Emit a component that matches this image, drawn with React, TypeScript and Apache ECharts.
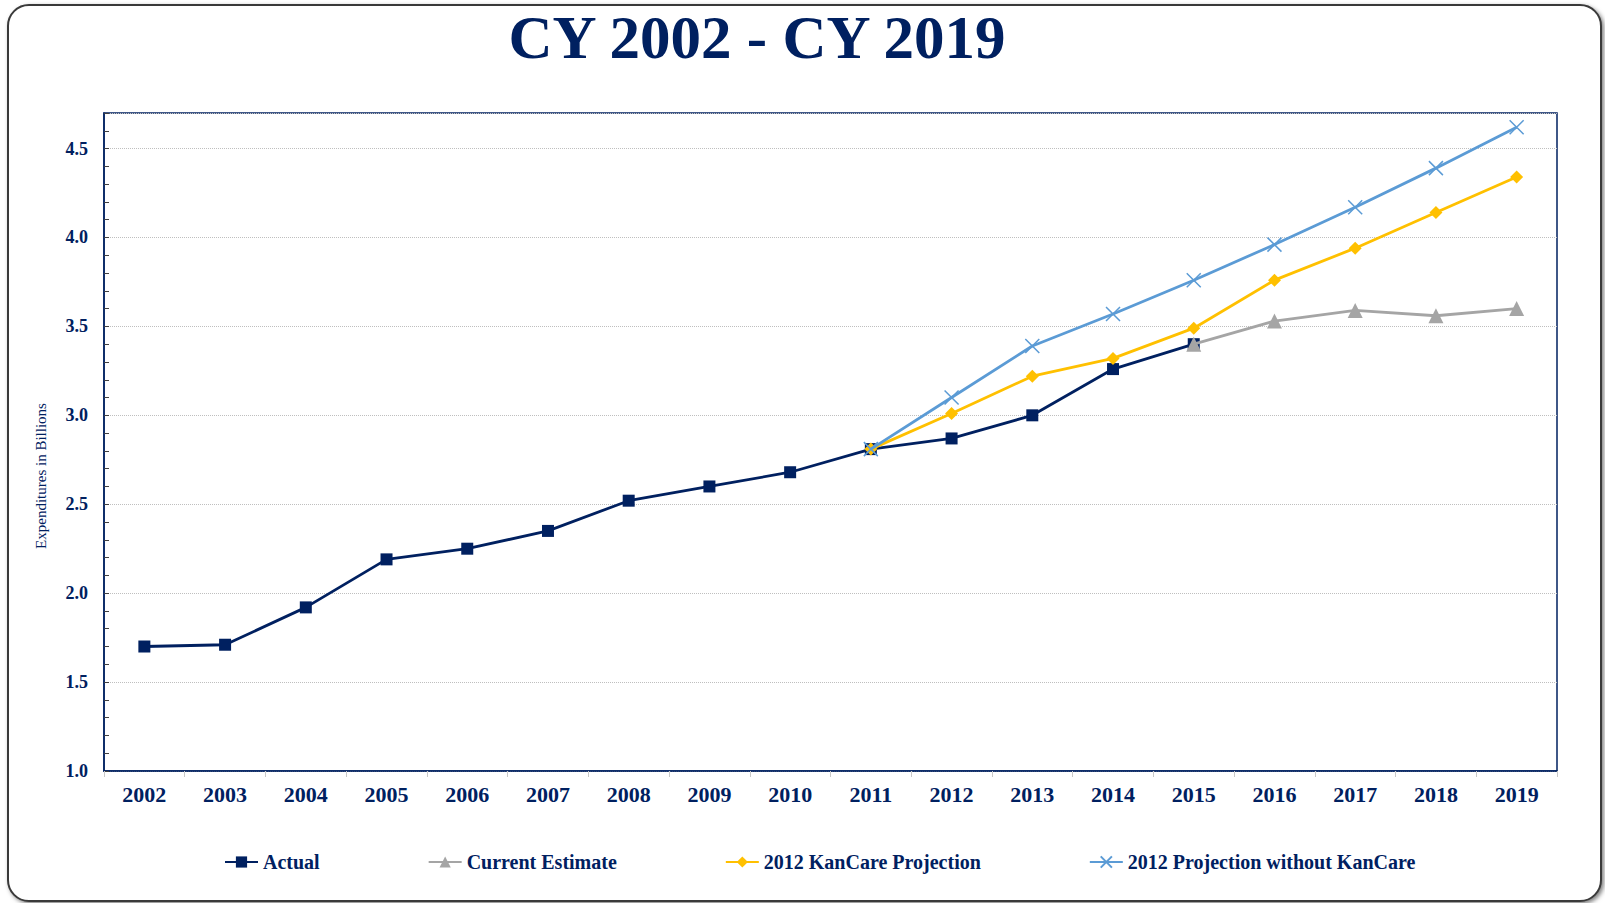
import React, { useEffect, useRef } from "react";
import * as echarts from "echarts";

const years = ["2002","2003","2004","2005","2006","2007","2008","2009","2010","2011","2012","2013","2014","2015","2016","2017","2018","2019"];
const actual = [1.70, 1.71, 1.92, 2.19, 2.25, 2.35, 2.52, 2.60, 2.68, 2.81, 2.87, 3.00, 3.26, 3.40, null, null, null, null];
const currentEstimate = [null, null, null, null, null, null, null, null, null, null, null, null, null, 3.40, 3.53, 3.59, 3.56, 3.60];
const kanCare = [null, null, null, null, null, null, null, null, null, 2.81, 3.01, 3.22, 3.32, 3.49, 3.76, 3.94, 4.14, 4.34];
const withoutKanCare = [null, null, null, null, null, null, null, null, null, 2.81, 3.10, 3.39, 3.57, 3.76, 3.96, 4.17, 4.39, 4.62];

const NAVY = "#002060";
const SERIF = '"Liberation Serif", "Times New Roman", serif';

export default function App() {
  const ref = useRef<HTMLDivElement>(null);
  useEffect(() => {
    document.body.style.margin = "0";
    const chart = echarts.init(ref.current!, null, { renderer: "svg" });
    chart.setOption({
      animation: false,
      graphic: [
        {
          type: "text",
          x: 757,
          y: 37,
          style: {
            text: "CY 2002 - CY 2019",
            font: `bold 61px ${SERIF}`,
            fill: NAVY,
            align: "center",
            verticalAlign: "middle",
          },
        },
        {
          type: "text",
          x: 41,
          y: 476,
          rotation: Math.PI / 2,
          style: {
            text: "Expenditures in Billions",
            font: `15px ${SERIF}`,
            fill: NAVY,
            align: "center",
            verticalAlign: "middle",
          },
        },
      ],
      grid: {
        left: 104,
        right: 48,
        top: 113,
        bottom: 132,
        show: true,
        borderColor: NAVY,
        borderWidth: 1.5,
        backgroundColor: "transparent",
      },
      legend: {
        left: 219,
        top: 847,
        itemGap: 108,
        itemWidth: 33,
        itemHeight: 14,
        textStyle: { fontFamily: SERIF, fontWeight: "bold", fontSize: 20, color: NAVY },
        data: ["Actual", "Current Estimate", "2012 KanCare Projection", "2012 Projection without KanCare"],
      },
      xAxis: {
        type: "category",
        data: years,
        boundaryGap: true,
        axisLine: { lineStyle: { color: NAVY, width: 1.5 } },
        axisTick: { show: true, length: 6, lineStyle: { color: "#C8C8C8" } },
        axisLabel: { fontFamily: SERIF, fontWeight: "bold", fontSize: 22, color: NAVY, margin: 12 },
        splitLine: { show: false },
      },
      yAxis: [
        {
          type: "value",
          min: 1.0,
          max: 4.7,
          interval: 0.5,
          axisLine: { show: true, lineStyle: { color: NAVY, width: 1.5 } },
          axisTick: { show: false },
          axisLabel: {
            fontFamily: SERIF,
            fontWeight: "bold",
            fontSize: 18,
            color: NAVY,
            margin: 16,
            showMaxLabel: false,
            formatter: (v: number) => v.toFixed(1),
          },
          splitLine: { show: true, lineStyle: { color: "#BFBFBF", type: "dotted", width: 1 } },
        },
        {
          type: "value",
          min: 1.0,
          max: 4.7,
          interval: 0.1,
          position: "left",
          axisLine: { show: false },
          axisTick: { show: true, inside: true, length: 5, lineStyle: { color: "#404040" } },
          axisLabel: { show: false },
          splitLine: { show: false },
        },
      ],
      series: [
        {
          name: "Actual",
          type: "line",
          data: actual,
          symbol: "rect",
          symbolSize: 12,
          lineStyle: { color: NAVY, width: 2.8 },
          itemStyle: { color: NAVY },
          z: 2,
        },
        {
          name: "Current Estimate",
          type: "line",
          data: currentEstimate,
          symbol: "triangle",
          symbolSize: 15,
          lineStyle: { color: "#A5A5A5", width: 2.8 },
          itemStyle: { color: "#A5A5A5" },
          z: 3,
        },
        {
          name: "2012 KanCare Projection",
          type: "line",
          data: kanCare,
          symbol: "diamond",
          symbolSize: 13,
          lineStyle: { color: "#FFC000", width: 2.8 },
          itemStyle: { color: "#FFC000" },
          z: 4,
        },
        {
          name: "2012 Projection without KanCare",
          type: "line",
          data: withoutKanCare,
          symbol: "path://M0,0L10,10M10,0L0,10",
          symbolSize: 14,
          lineStyle: { color: "#5B9BD5", width: 2.8 },
          itemStyle: { color: "transparent", borderColor: "#5B9BD5", borderWidth: 1.5 },
          z: 5,
        },
      ],
    });
    return () => chart.dispose();
  }, []);

  return (
    <div style={{ position: "relative", width: 1605, height: 903, background: "#fff", overflow: "hidden" }}>
      <div
        style={{
          position: "absolute",
          left: 7,
          top: 4,
          width: 1591,
          height: 894,
          border: "2px solid #3a3a3a",
          borderRadius: 22,
          boxShadow: "2px 2px 4px rgba(0,0,0,0.5)",
          background: "#fff",
        }}
      />
      <div ref={ref} style={{ position: "absolute", left: 0, top: 0, width: 1605, height: 903 }} />
    </div>
  );
}
